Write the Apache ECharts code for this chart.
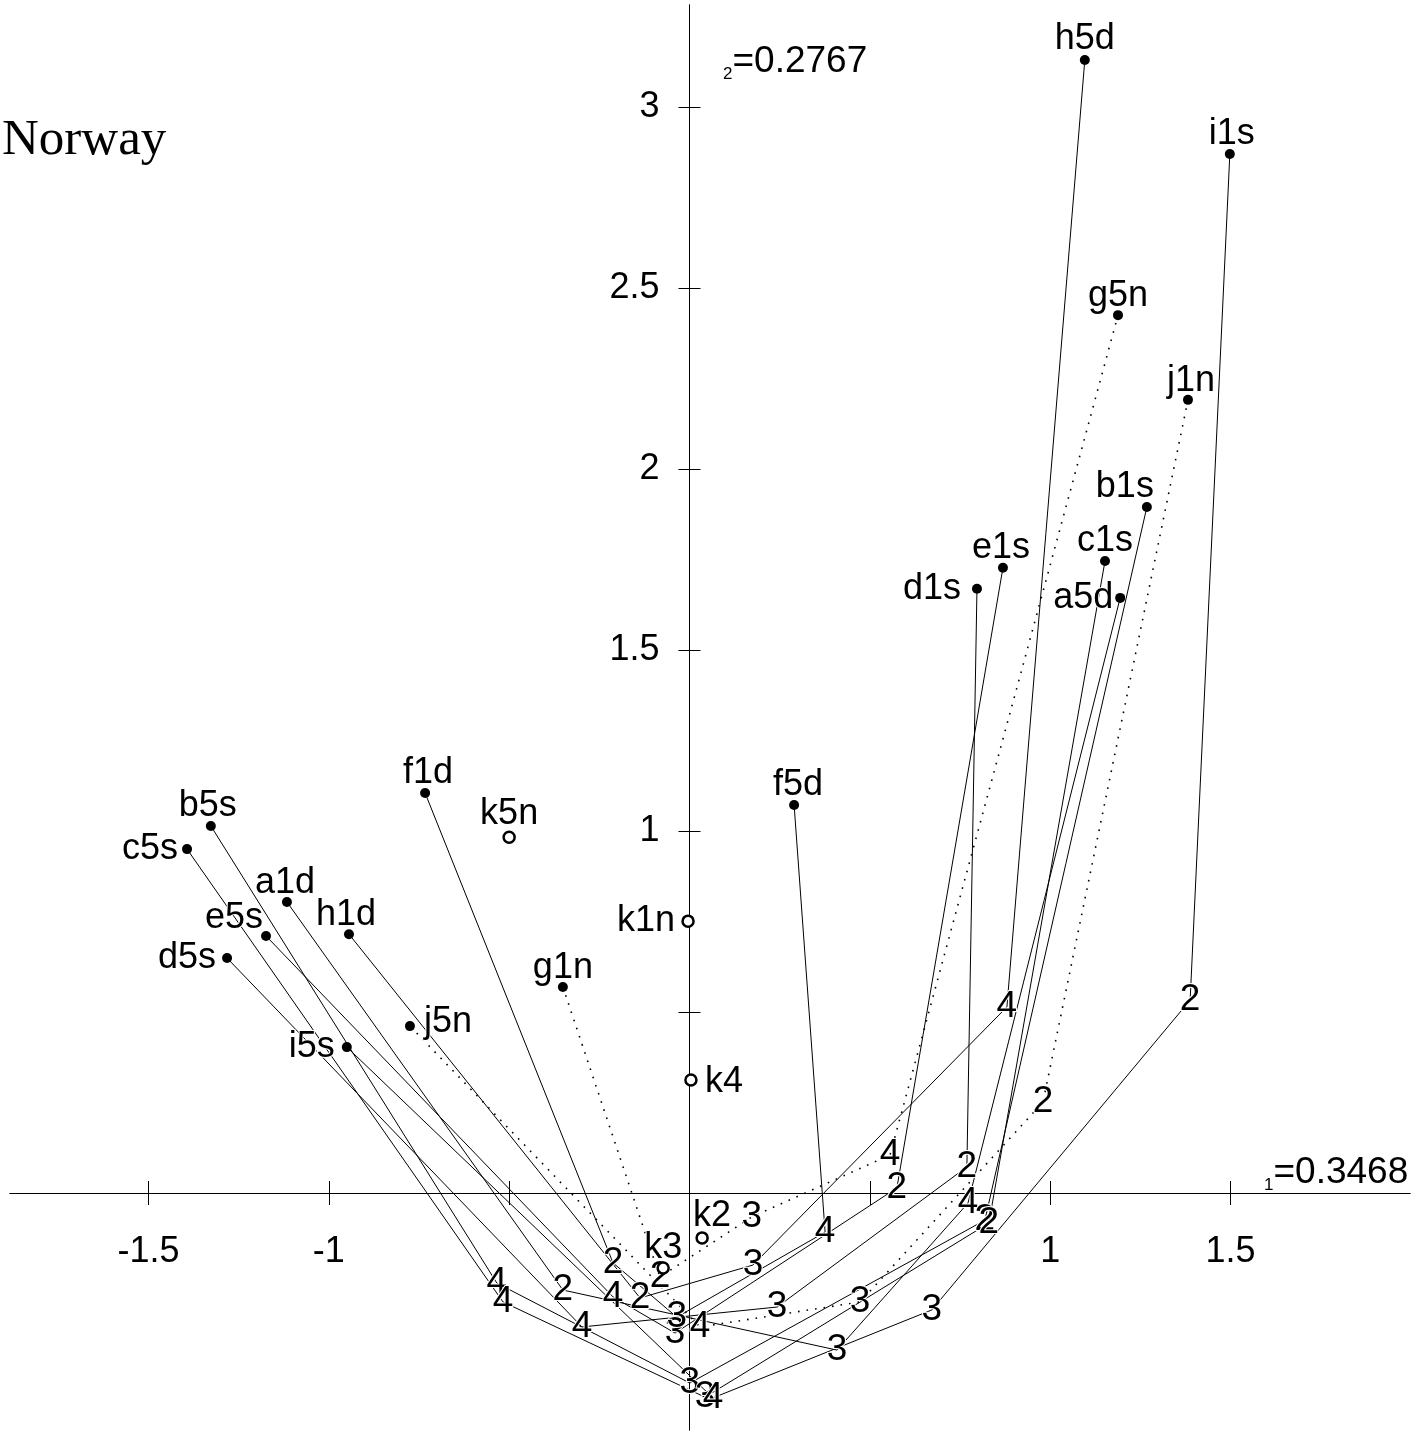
<!DOCTYPE html>
<html><head><meta charset="utf-8">
<script src="https://cdn.jsdelivr.net/npm/echarts@6/dist/echarts.min.js"></script>
<style>html,body{margin:0;padding:0;background:#fff}#c{width:1417px;height:1434px}</style>
</head><body><div id="c"></div>
<script>
// ---------- data ----------
const trajectoryIds = ['a','b','c','d','e','f','g','h','i','j'];
const startLabels = ['a1d','b1s','c1s','d1s','e1s','f1d','g1n','h1d','i1s','j1n'];
const endLabels   = ['a5d','b5s','c5s','d5s','e5s','f5d','g5n','h5d','i5s','j5n'];
const dottedIds = ['g','j'];

// each trajectory: positions at occasions 1..5 (dimension 1, dimension 2)
const trajA = [[-1.116,0.804],[-0.351,-0.268],[0.409,-0.434],[0.772,-0.028],[1.194,1.644]];
const trajB = [[1.268,1.895],[0.819,-0.075],[0.001,-0.525],[-0.534,-0.249],[-1.327,1.014]];
const trajC = [[1.152,1.746],[0.830,-0.083],[0.043,-0.564],[-0.517,-0.301],[-1.393,0.950]];
const trajD = [[0.797,1.669],[0.769,0.072],[0.243,-0.315],[-0.298,-0.370],[-1.282,0.649]];
const trajE = [[0.869,1.727],[0.575,0.014],[-0.040,-0.387],[-0.212,-0.287],[-1.174,0.710]];
const trajF = [[-0.733,1.105],[-0.212,-0.193],[-0.035,-0.343],[0.376,-0.108],[0.290,1.072]];
const trajG = [[-0.351,0.569],[-0.082,-0.232],[0.173,-0.066],[0.556,0.105],[1.188,2.425]];
const trajH = [[-0.944,0.715],[-0.137,-0.290],[0.176,-0.199],[0.880,0.514],[1.096,3.130]];
const trajI = [[1.498,2.870],[1.388,0.533],[0.672,-0.323],[0.065,-0.566],[-0.950,0.403]];
const trajJ = [[1.382,2.191],[0.980,0.251],[0.473,-0.301],[0.029,-0.370],[-0.775,0.461]];
const kPoints = [[-0.004,0.751],[0.035,-0.124],[-0.073,-0.207],[0.004,0.312],[-0.500,0.983]];
const kLabels = ['k1n','k2','k3','k4','k5n'];

const xTickValues = [-1.5,-1,-0.5,0.5,1,1.5];
const xTickLabels = [-1.5,-1,1,1.5];
const yTickValues = [0.5,1,1.5,2,2.5,3];
const yTickLabels = [1,1.5,2,2.5,3];
const countryName = 'Norway';
const inertia1 = '=0.3468';
const inertia2 = '=0.2767';

// ---------- label placement (style, not data) ----------
const labelOffsets = {
  a1d:[-2,-19], a5d:[-37,0], b1s:[-22,-20], b5s:[-3,-20], c1s:[0,-20], c5s:[-37,0],
  d1s:[-45,0], d5s:[-40,0], e1s:[-2,-20], e5s:[-32,-18], f1d:[3,-20], f5d:[4,-20],
  g1n:[0,-19], g5n:[0,-19], h1d:[-3,-19], h5d:[0,-21], i1s:[2,-20], i5s:[-35,0],
  j1n:[3,-19], j5n:[38,-4], k1n:[-42,0], k2:[10,-22], k3:[0,-20], k4:[33,2], k5n:[0,-23]
};

const trajectories = [trajA,trajB,trajC,trajD,trajE,trajF,trajG,trajH,trajI,trajJ];
const FONT = "'Liberation Sans', Arial, Helvetica, sans-serif";
const X_MIN = -1.8838, X_MAX = 1.9975, Y_MIN = -0.6547, Y_MAX = 3.2818;
const G = {left:10, top:5, width:1400, height:1425};
// pixel position of the zero lines inside the grid (derived from the axis ranges)
const zeroY = G.top + G.height * (Y_MAX - 0) / (Y_MAX - Y_MIN);
const zeroX = G.left + G.width * (0 - X_MIN) / (X_MAX - X_MIN);

function xAxisCfg(pos, showLabel) {
  const offset = pos === 'bottom' ? zeroY - (G.top + G.height) : G.top - zeroY;
  return {
    type:'value', position:pos, offset:offset, min:X_MIN, max:X_MAX,
    axisLine:{show:true, onZero:false, lineStyle:{color:'#000', width:1}},
    axisTick:{show:true, customValues:xTickValues, length:12, lineStyle:{color:'#000', width:1}},
    axisLabel:{show:showLabel, customValues:xTickLabels, margin:41, fontSize:36, color:'#000', fontFamily:FONT},
    splitLine:{show:false}
  };
}
function yAxisCfg(pos, showLabel) {
  const offset = pos === 'left' ? G.left - zeroX : zeroX - (G.left + G.width);
  return {
    type:'value', position:pos, offset:offset, min:Y_MIN, max:Y_MAX,
    axisLine:{show:true, onZero:false, lineStyle:{color:'#000', width:1}},
    axisTick:{show:true, customValues:yTickValues, length:11, lineStyle:{color:'#000', width:1}},
    axisLabel:{show:showLabel, customValues:yTickLabels, margin:30, fontSize:36, color:'#000', fontFamily:FONT},
    splitLine:{show:false}
  };
}

const series = [];
trajectories.forEach((t, i) => {
  const dotted = dottedIds.indexOf(trajectoryIds[i]) >= 0;
  series.push({
    type:'line', name:trajectoryIds[i], data:t, symbol:'none', showSymbol:false,
    lineStyle:{color:'#000', width: dotted ? 1.6 : 1, type: dotted ? [1.6, 7] : 'solid', opacity:1},
    z:1, silent:true, clip:false, animation:false
  });
});

const labelBase = {show:true, position:'inside', formatter:'{b}', color:'#000', opacity:1,
                   fontFamily:FONT, textBorderColor:'#fff', textBorderWidth:2};

// occasion numbers 2..4
const numberData = [];
trajectories.forEach(t => {
  for (let k = 1; k <= 3; k++) numberData.push({name:String(k+1), value:t[k]});
});
series.push({
  type:'scatter', data:numberData, symbol:'circle', symbolSize:1,
  itemStyle:{color:'rgba(0,0,0,0)', opacity:1}, z:3, silent:true, animation:false,
  label:Object.assign({}, labelBase, {fontSize:37})
});

// endpoints (occasion 1 and 5)
const endData = [];
trajectories.forEach((t, i) => {
  [[0, startLabels[i]], [4, endLabels[i]]].forEach(([k, lab]) => {
    endData.push({name:lab, value:t[k], label:{offset:labelOffsets[lab]}});
  });
});
series.push({
  type:'scatter', data:endData, symbol:'circle', symbolSize:10,
  itemStyle:{color:'#000', opacity:1}, z:4, silent:true, animation:false,
  label:Object.assign({}, labelBase, {fontSize:36})
});

// k points (open circles, no trajectory line)
series.push({
  type:'scatter',
  data:kPoints.map((p, i) => ({name:kLabels[i], value:p, label:{offset:labelOffsets[kLabels[i]]}})),
  symbol:'circle', symbolSize:11,
  itemStyle:{color:'#fff', borderColor:'#000', borderWidth:2.5, opacity:1}, z:4, silent:true, animation:false,
  label:Object.assign({}, labelBase, {fontSize:36})
});

const richInertia = {
  s:{fontSize:17, fontFamily:FONT, fontWeight:'normal', color:'#000', verticalAlign:'bottom', lineHeight:17},
  m:{fontSize:37, fontFamily:FONT, fontWeight:'normal', color:'#000', lineHeight:42}
};

const chart = echarts.init(document.getElementById('c'), null, {renderer:'canvas'});
chart.setOption({
  animation:false,
  backgroundColor:'#fff',
  title:[
    {text:countryName, left:-3, top:110,
     textStyle:{fontFamily:"'Liberation Serif', 'Times New Roman', serif", fontSize:51, fontWeight:'normal', color:'#000'}},
    {text:'{s|2}{m|' + inertia2 + '}', left:718, top:36, textStyle:{fontWeight:'normal', rich:richInertia}},
    {text:'{s|1}{m|' + inertia1 + '}', left:1259, top:1147, textStyle:{fontWeight:'normal', rich:richInertia}}
  ],
  grid:{left:G.left, top:G.top, width:G.width, height:G.height, containLabel:false, outerBoundsMode:'none'},
  xAxis:[xAxisCfg('bottom', true), xAxisCfg('top', false)],
  yAxis:[yAxisCfg('left', true), yAxisCfg('right', false)],
  series:series
});
</script></body></html>
